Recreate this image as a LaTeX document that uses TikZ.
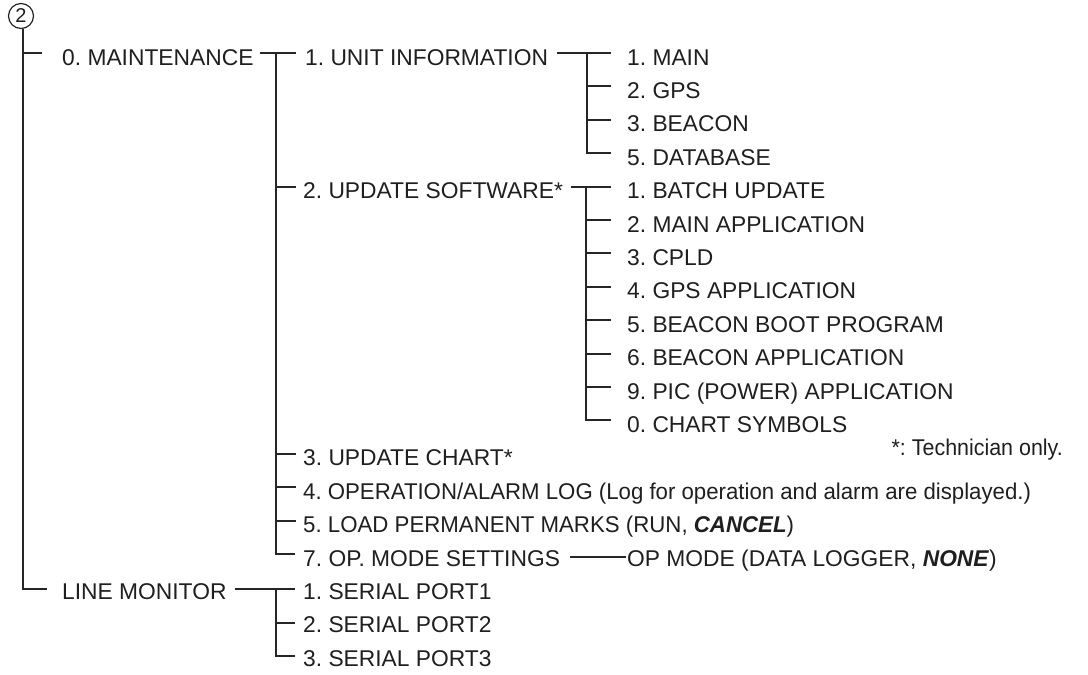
\documentclass[tikz,border=0pt]{standalone}
\usepackage{fontspec}
\usepackage{graphicx}
\setmainfont{Liberation Sans}
\usetikzlibrary{calc}
\begin{document}
\frenchspacing
\begin{tikzpicture}[x=1pt,y=-1pt,
  every node/.style={inner sep=0pt, font=\fontsize{22.8}{26}\selectfont, text=black!88},
  row/.style={anchor=base west},
  conn/.style={line width=2pt, draw=black!85}]
\useasboundingbox (0,0) rectangle (1088,675);
\fill[white] (0,0) rectangle (1088,675);

% circled number
\node[circle, draw=black!85, line width=1.2pt, minimum size=25pt, font=\fontsize{20}{21}\selectfont] (c2) at (21,16) {2};
\coordinate (A0) at (23,28);

% level 1
\node[row] (mnt) at (62,65) {0. MAINTENANCE};
\node[row] (lm) at (62,599.4) {LINE MONITOR};

% level 2 (maintenance)
\node[row] (ui) at (305,65) {1. UNIT INFORMATION};
\node[row] (us) at (303,198.6) {2. UPDATE SOFTWARE*};
\node[row] (uc) at (303,465.8) {3. UPDATE CHART*};
\node[row] (ol) at (303,499.2) {\scalebox{0.974}[1]{4. OPERATION/ALARM LOG (Log for operation and alarm are displayed.)}};
\node[row] (lp) at (303,532.6) {\scalebox{0.976}[1]{5. LOAD PERMANENT MARKS (RUN, \textbf{\textit{CANCEL}})}};
\node[row] (om) at (303,566) {7. OP. MODE SETTINGS};
\node[row] (omv) at (627,566) {OP MODE (DATA LOGGER, \textbf{\textit{NONE}})};

% unit information
\node[row] (u1) at (627,65) {1. MAIN};
\node[row] (u2) at (627,98.4) {2. GPS};
\node[row] (u3) at (627,131.8) {3. BEACON};
\node[row] (u4) at (627,165.2) {5. DATABASE};

% update software
\node[row] (s1) at (627,198.6) {1. BATCH UPDATE};
\node[row] (s2) at (627,232) {2. MAIN APPLICATION};
\node[row] (s3) at (627,265.4) {3. CPLD};
\node[row] (s4) at (627,298.8) {4. GPS APPLICATION};
\node[row] (s5) at (627,332.2) {5. BEACON BOOT PROGRAM};
\node[row] (s6) at (627,365.6) {6. BEACON APPLICATION};
\node[row] (s7) at (627,399) {9. PIC (POWER) APPLICATION};
\node[row] (s8) at (627,432.4) {0. CHART SYMBOLS};

\node[anchor=base east] (tech) at (1063,455.5) {\scalebox{0.94}[1]{*: Technician only.}};

% line monitor
\node[row] (p1) at (303,599.4) {1. SERIAL PORT1};
\node[row] (p2) at (303,632.8) {2. SERIAL PORT2};
\node[row] (p3) at (303,666.2) {3. SERIAL PORT3};

% main vertical
\draw[conn] (c2.south -| A0) |- ($(lm.base west)+(-15,-10)$);
\draw[conn] ($(mnt.base west)+(-39,-12)$) -- ($(mnt.base west)+(-20,-12)$);

% maintenance -> column B
\draw[conn] ($(mnt.base east)+(6,-12)$) -- ($(ui.base west)+(-9,-12)$);
\draw[conn] ($(ui.base west)+(-29,-12)$) |- ($(om.base west)+(-8,-12)$);
\foreach \n in {us,uc,ol,lp}
  \draw[conn] ($(\n.base west)+(-27,-12)$) -- ($(\n.base west)+(-7,-12)$);

% unit information -> column C
\draw[conn] ($(ui.base east)+(9,-12)$) -- ($(u1.base west)+(-16,-12)$);
\draw[conn] ($(u1.base west)+(-40,-12)$) |- ($(u4.base west)+(-16,-12)$);
\foreach \n in {u2,u3}
  \draw[conn] ($(\n.base west)+(-40,-12)$) -- ($(\n.base west)+(-16,-12)$);

% update software -> column C
\draw[conn] ($(us.base east)+(8,-12)$) -- ($(s1.base west)+(-16,-12)$);
\draw[conn] ($(s1.base west)+(-41,-12)$) |- ($(s8.base west)+(-16,-12)$);
\foreach \n in {s2,s3,s4,s5,s6,s7}
  \draw[conn] ($(\n.base west)+(-41,-12)$) -- ($(\n.base west)+(-16,-12)$);

% op mode
\draw[conn] ($(om.base east)+(10,-9)$) -- ($(omv.base west)+(-1,-9)$);

% line monitor
\draw[conn] ($(lm.base east)+(8,-10)$) -- ($(p1.base west)+(-8,-10)$);
\draw[conn] ($(p1.base west)+(-27,-10)$) |- ($(p3.base west)+(-8,-10)$);
\draw[conn] ($(p2.base west)+(-27,-10)$) -- ($(p2.base west)+(-8,-10)$);
\end{tikzpicture}
\end{document}
